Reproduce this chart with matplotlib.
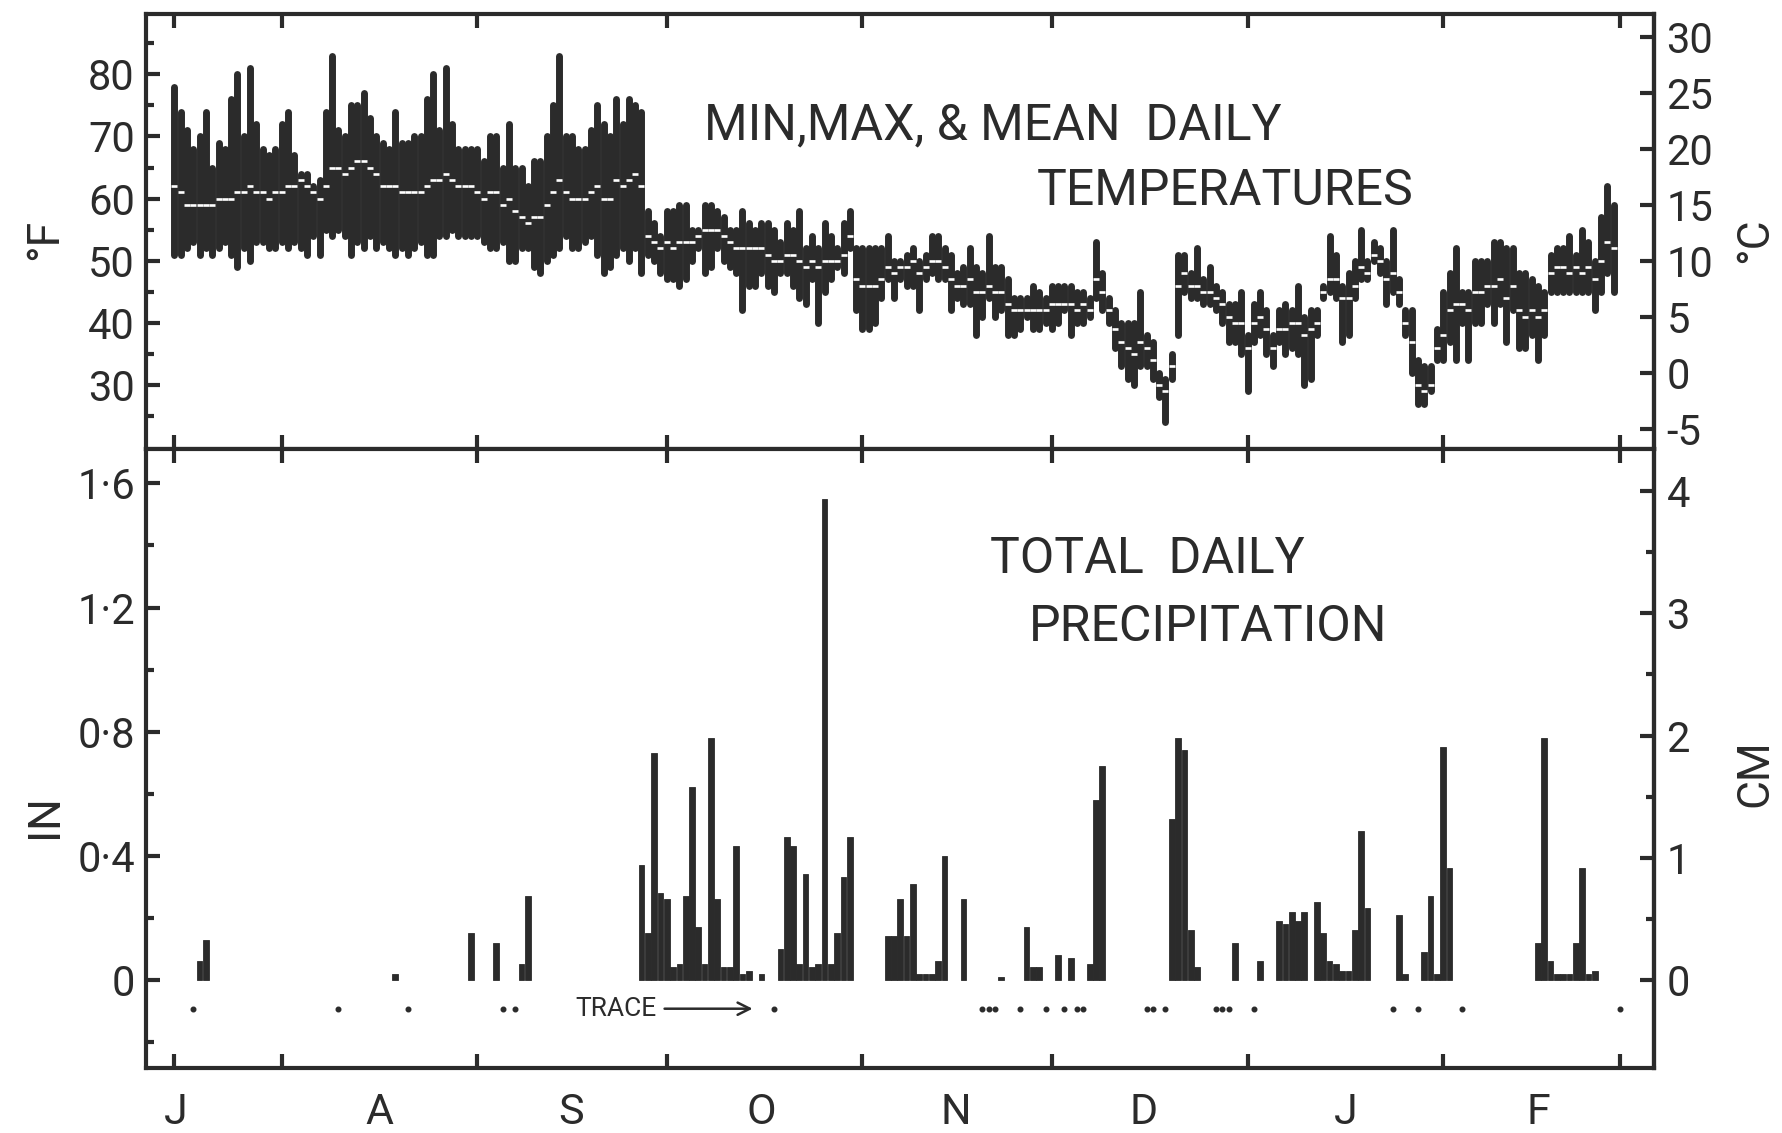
import numpy as np
import matplotlib.pyplot as plt
from matplotlib.ticker import FixedLocator, FixedFormatter

plt.rcParams['font.family'] = ['Roboto', 'DejaVu Sans']
plt.rcParams['axes.unicode_minus'] = False

INK = '#2b2b2b'

# day numbers count from 1 July (day 0); records run 15 Jul - 28 Feb
first_day = 14
month_starts = [14, 31, 62, 92, 123, 153, 184, 215, 243]
month_label_pos = [14.2, 46.5, 76.8, 107, 137.8, 167.5, 199.5, 230]
month_letters = ['J', 'A', 'S', 'O', 'N', 'D', 'J', 'F']

# daily temperatures, deg F
t_max = [
    # 15 Jul - 20 Aug
    78, 74, 71, 68, 70, 74, 65, 69, 68, 76, 80, 70, 81, 72, 68, 67, 68, 72, 74, 67,
    64, 64, 62, 63, 74, 83, 71, 70, 75, 75, 77, 73, 70, 69, 68, 74, 69,
    # 21 Aug - 27 Sep
    69, 70, 70, 76, 80, 71, 81, 72, 68, 68, 68, 68, 66, 70, 70, 65, 72, 65, 65, 62,
    66, 66, 70, 75, 83, 70, 70, 68, 68, 71, 75, 72, 70, 76, 72, 76, 75, 74,
    # 28 Sep - 5 Nov
    58, 56, 54, 58, 58, 59, 59, 55, 55, 59, 59, 58, 57, 55, 55, 58, 56, 55, 56, 56,
    55, 53, 56, 55, 58, 52, 54, 52, 56, 54, 52, 56, 58, 52, 52, 52, 52, 52, 54,
    # 6 Nov - 13 Dec
    50, 50, 51, 52, 50, 51, 54, 54, 52, 51, 48, 49, 52, 49, 48, 54, 49, 49, 47, 44,
    44, 44, 46, 45, 44, 46, 46, 46, 46, 45, 45, 44, 53, 48, 44, 42, 40, 40,
    # 14 Dec - 20 Jan
    40, 45, 38, 37, 32, 31, 35, 51, 51, 48, 52, 47, 49, 46, 45, 43, 43, 45, 38, 43,
    45, 42, 38, 42, 43, 42, 46, 41, 42, 42, 46, 54, 51, 46, 48, 50, 55, 50,
    # 21 Jan - 28 Feb
    53, 52, 50, 55, 47, 42, 42, 34, 33, 33, 39, 45, 48, 52, 45, 45, 50, 50, 50, 53,
    53, 52, 52, 48, 48, 47, 46, 45, 51, 52, 52, 54, 51, 55, 53, 50, 57, 62, 59,
]
t_min = [
    51, 51, 52, 53, 51, 52, 51, 52, 53, 51, 49, 52, 50, 53, 53, 52, 52, 53, 52, 53,
    52, 51, 54, 51, 55, 54, 55, 54, 51, 53, 52, 54, 52, 53, 52, 51, 52,
    51, 52, 53, 51, 51, 54, 54, 55, 54, 54, 54, 54, 53, 52, 52, 53, 50, 50, 52, 52,
    49, 48, 50, 51, 52, 54, 52, 52, 53, 54, 51, 48, 49, 51, 52, 50, 52, 48,
    51, 50, 48, 47, 47, 46, 47, 50, 52, 48, 49, 52, 50, 49, 48, 42, 46, 46, 48, 46,
    45, 48, 48, 46, 44, 43, 47, 40, 45, 47, 49, 48, 52, 42, 39, 39, 40, 44, 47,
    44, 47, 46, 46, 42, 47, 48, 47, 47, 42, 44, 43, 43, 38, 41, 44, 41, 42, 38, 38,
    39, 41, 39, 39, 40, 39, 40, 42, 38, 40, 40, 41, 44, 42, 40, 36, 33, 31,
    30, 33, 33, 31, 28, 24, 31, 38, 45, 44, 44, 43, 43, 42, 40, 37, 37, 35, 29, 37,
    38, 35, 33, 37, 35, 36, 35, 30, 31, 38, 44, 45, 44, 37, 38, 44, 47, 47,
    50, 48, 43, 45, 43, 38, 32, 27, 27, 29, 34, 34, 37, 34, 40, 34, 40, 40, 43, 40,
    43, 37, 42, 36, 36, 38, 34, 38, 45, 45, 45, 45, 45, 45, 45, 42, 45, 48, 45,
]
t_mean = [
    62, 61, 59, 59, 59, 59, 59, 60, 60, 60, 61, 61, 62, 61, 61, 60, 61, 61, 62, 62,
    63, 62, 61, 60, 62, 65, 65, 64, 65, 66, 66, 65, 64, 62, 62, 62, 61,
    61, 61, 61, 62, 63, 63, 64, 63, 62, 62, 62, 61, 60, 61, 61, 59, 60, 58, 57, 56,
    57, 57, 59, 61, 63, 61, 60, 60, 60, 61, 62, 60, 60, 63, 62, 63, 64, 62,
    54, 53, 52, 53, 52, 53, 53, 53, 54, 55, 55, 55, 54, 53, 52, 52, 52, 52, 52, 51,
    50, 50, 51, 51, 50, 49, 50, 49, 50, 50, 50, 51, 54, 47, 46, 46, 46, 47, 49,
    48, 49, 49, 50, 48, 49, 50, 50, 49, 47, 46, 46, 47, 45, 45, 46, 45, 45, 43, 42,
    42, 42, 42, 42, 42, 43, 43, 43, 43, 42, 43, 42, 47, 45, 42, 39, 37, 36,
    35, 37, 36, 34, 30, 29, 33, 46, 48, 46, 46, 45, 45, 44, 43, 41, 40, 40, 36, 40,
    41, 39, 36, 39, 39, 40, 40, 38, 39, 40, 45, 47, 47, 44, 44, 46, 49, 48,
    51, 50, 47, 48, 45, 40, 37, 30, 29, 30, 36, 38, 42, 43, 43, 42, 45, 45, 46, 46,
    47, 44, 46, 42, 41, 42, 41, 42, 48, 49, 49, 48, 49, 48, 49, 47, 50, 53, 52,
]

# daily precipitation, inches (days with a measurable amount)
rain_days = [18, 19, 49, 61, 65, 69, 70,
             88, 89, 90, 91, 92, 93, 94, 95, 96, 97, 98, 99, 100, 101, 102, 103,
             104, 105, 107, 110, 111, 112, 113, 114, 115, 116, 117, 118, 119, 120, 121,
             127, 128, 129, 130, 131, 132, 133, 134, 135, 136, 139,
             145, 149, 150, 151, 154, 156, 159, 160, 161,
             172, 173, 174, 175, 176, 182, 186,
             189, 190, 191, 192, 193, 195, 196, 197, 198, 199, 200, 201, 202, 203,
             208, 209, 212, 213, 214, 215, 216,
             230, 231, 232, 233, 234, 235, 236, 237, 238, 239]
rain_in = [0.06, 0.13, 0.02, 0.15, 0.12, 0.05, 0.27,
           0.37, 0.15, 0.73, 0.28, 0.26, 0.04, 0.05, 0.27, 0.62, 0.17, 0.05, 0.78, 0.26, 0.04, 0.04, 0.43,
           0.02, 0.03, 0.02, 0.10, 0.46, 0.43, 0.05, 0.34, 0.04, 0.05, 1.55, 0.05, 0.15, 0.33, 0.46,
           0.14, 0.14, 0.26, 0.14, 0.31, 0.02, 0.02, 0.02, 0.06, 0.40, 0.26,
           0.01, 0.17, 0.04, 0.04, 0.08, 0.07, 0.05, 0.58, 0.69,
           0.52, 0.78, 0.74, 0.16, 0.04, 0.12, 0.06,
           0.19, 0.18, 0.22, 0.19, 0.22, 0.25, 0.15, 0.06, 0.05, 0.03, 0.03, 0.16, 0.48, 0.23,
           0.21, 0.02, 0.09, 0.27, 0.02, 0.75, 0.36,
           0.12, 0.78, 0.06, 0.02, 0.02, 0.02, 0.12, 0.36, 0.02, 0.03]
trace_days = [17, 40, 51, 66, 68, 109, 142, 143, 144, 148, 152, 155, 157, 158,
              168, 169, 171, 179, 180, 181, 185, 207, 211, 218, 243]
trace_level = -0.093


def f_to_c(f):
    return (f - 32) * 5 / 9


def c_to_f(c):
    return c * 9 / 5 + 32


def in_to_cm(x):
    return x * 2.54


def cm_to_in(x):
    return x / 2.54


fig = plt.figure(figsize=(17.82, 11.33), dpi=100, facecolor='white')
ax_t = fig.add_axes([0.0819, 0.6037, 0.8463, 0.3839])
ax_p = fig.add_axes([0.0819, 0.0574, 0.8463, 0.5463])

days = np.arange(first_day, first_day + len(t_max))

# temperature: min-max bar per day, mean as a white nick
ax_t.vlines(days, t_min, t_max, colors=INK, linewidth=5.0, capstyle='round')
ax_t.plot(days, t_mean, ls='none', marker='_', ms=5, mew=1.9, color='white')

# precipitation
ax_p.bar(rain_days, rain_in, width=0.9, color=INK, edgecolor=INK, linewidth=0.6)
ax_p.plot(trace_days, np.full(len(trace_days), trace_level), ls='none',
          marker='o', ms=3.3, color=INK)

for ax in (ax_t, ax_p):
    ax.set_xlim(9.5, 248.4)
    for s in ax.spines.values():
        s.set_linewidth(3)
        s.set_color(INK)
    ax.xaxis.set_major_locator(FixedLocator(month_starts))
    ax.tick_params(axis='x', which='major', direction='in', top=True, bottom=True,
                   length=10, width=3, color=INK, labelbottom=False)
    ax.tick_params(axis='y', which='both', direction='in', width=3, color=INK,
                   labelsize=30, pad=8, labelcolor=INK)
    ax.tick_params(axis='y', which='major', length=10)
    ax.tick_params(axis='y', which='minor', length=6)

# month letters under the lower panel
ax_p.xaxis.set_minor_locator(FixedLocator(month_label_pos))
ax_p.xaxis.set_minor_formatter(FixedFormatter(month_letters))
ax_p.tick_params(axis='x', which='minor', length=0, labelsize=31, pad=17,
                 labelcolor=INK, bottom=True)

# upper panel axes
ax_t.set_ylim(19.7, 89.7)
ax_t.yaxis.set_major_locator(FixedLocator([30, 40, 50, 60, 70, 80]))
ax_t.yaxis.set_minor_locator(FixedLocator([25, 35, 45, 55, 65, 75, 85]))
sec_t = ax_t.secondary_yaxis('right', functions=(f_to_c, c_to_f))
sec_t.yaxis.set_major_locator(FixedLocator([-5, 0, 5, 10, 15, 20, 25, 30]))
sec_t.tick_params(direction='in', length=10, width=3, color=INK, labelsize=30,
                  pad=9, labelcolor=INK)
sec_t.spines['right'].set_linewidth(3)
sec_t.spines['right'].set_color(INK)

# lower panel axes
ax_p.set_ylim(-0.284, 1.711)
ax_p.yaxis.set_major_locator(FixedLocator([0, 0.4, 0.8, 1.2, 1.6]))
ax_p.yaxis.set_major_formatter(FixedFormatter(['0', '0·4', '0·8', '1·2', '1·6']))
ax_p.yaxis.set_minor_locator(FixedLocator([-0.2, 0.2, 0.6, 1.0, 1.4]))
sec_p = ax_p.secondary_yaxis('right', functions=(in_to_cm, cm_to_in))
sec_p.yaxis.set_major_locator(FixedLocator([0, 1, 2, 3, 4]))
sec_p.yaxis.set_minor_locator(FixedLocator([0.5, 1.5, 2.5, 3.5]))
sec_p.tick_params(which='both', direction='in', width=3, color=INK, labelsize=30,
                  pad=9, labelcolor=INK)
sec_p.tick_params(which='major', length=10)
sec_p.tick_params(which='minor', length=6)
sec_p.spines['right'].set_linewidth(3)
sec_p.spines['right'].set_color(INK)

# panel titles
ax_t.text(143.7, 71.8, 'MIN,MAX, & MEAN  DAILY', ha='center', va='center',
          fontsize=36, color=INK)
ax_t.text(180.4, 61.2, 'TEMPERATURES', ha='center', va='center',
          fontsize=36, color=INK)
ax_p.text(168.2, 1.357, 'TOTAL  DAILY', ha='center', va='center',
          fontsize=36, color=INK)
ax_p.text(177.7, 1.138, 'PRECIPITATION', ha='center', va='center',
          fontsize=36, color=INK)
ax_p.annotate('TRACE', xy=(105.6, trace_level), xytext=(83.9, trace_level),
              ha='center', va='center', fontsize=19, color=INK,
              arrowprops=dict(arrowstyle='->', color=INK, lw=1.8,
                              shrinkA=4, shrinkB=0, mutation_scale=22))

# axis unit labels
fig.text(0.0253, 0.789, '°F', rotation=90, ha='center', va='center',
         fontsize=32, color=INK)
fig.text(0.0253, 0.2798, 'IN', rotation=90, ha='center', va='center',
         fontsize=32, color=INK)
fig.text(0.985, 0.788, '°C', rotation=90, ha='center', va='center',
         fontsize=32, color=INK)
fig.text(0.985, 0.3177, 'CM', rotation=90, ha='center', va='center',
         fontsize=32, color=INK)

fig.savefig('out.png', dpi=100, facecolor='white')
